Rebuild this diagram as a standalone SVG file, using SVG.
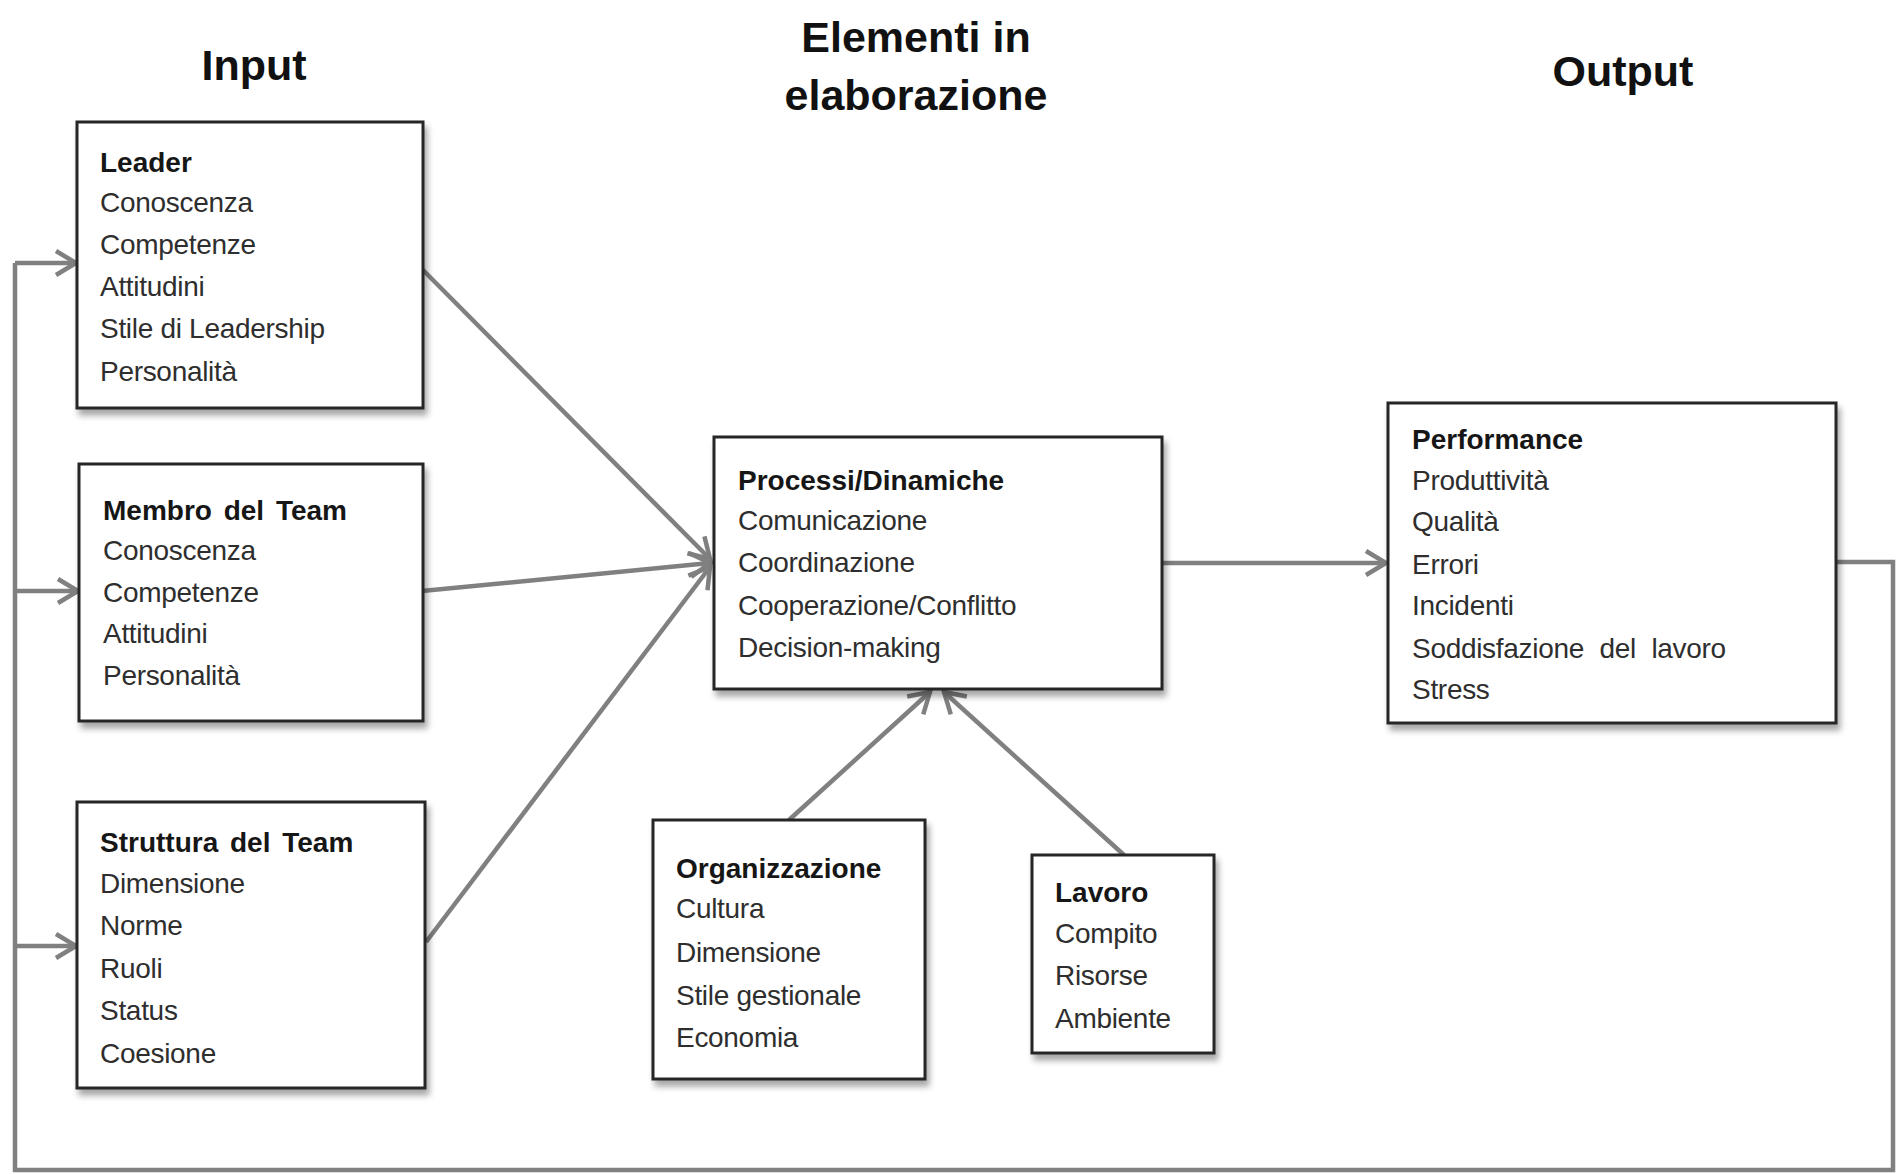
<svg xmlns="http://www.w3.org/2000/svg" width="1898" height="1174" viewBox="0 0 1898 1174">
<defs>
<filter id="sh" x="-10%" y="-10%" width="130%" height="130%">
<feDropShadow dx="3" dy="6" stdDeviation="3" flood-color="#000" flood-opacity="0.35"/>
</filter>
<marker id="ah" markerUnits="userSpaceOnUse" markerWidth="30" markerHeight="30" viewBox="0 0 30 30" refX="25" refY="15" orient="auto">
<path d="M5,3 L25,15 L5,27" fill="none" stroke="#808080" stroke-width="4.5"/>
</marker>
<style>
.box{fill:#fff;stroke:#262626;stroke-width:3;filter:url(#sh)}
.t{font-family:"Liberation Sans",Arial,sans-serif;font-size:28px;fill:#2e2e2e;letter-spacing:-0.3px}
.b{font-weight:bold;fill:#161616;word-spacing:4px;letter-spacing:0}
.h{font-family:"Liberation Sans",Arial,sans-serif;font-size:43px;font-weight:bold;fill:#111;text-anchor:middle}
.c{fill:none;stroke:#808080;stroke-width:4.5}
</style>
</defs>
<rect width="1898" height="1174" fill="#fff"/>
<g id="titles">
<text class="h" x="254" y="80">Input</text>
<text class="h" x="916" y="52">Elementi in</text>
<text class="h" x="916" y="110">elaborazione</text>
<text class="h" x="1623" y="86">Output</text>
</g>
<g id="connectors">
<path class="c" d="M1836,562 H1893 V1170 H15 V263"/>
<line class="c" x1="15" y1="263" x2="76" y2="263" marker-end="url(#ah)"/>
<line class="c" x1="15" y1="591" x2="78" y2="591" marker-end="url(#ah)"/>
<line class="c" x1="15" y1="946" x2="76" y2="946" marker-end="url(#ah)"/>
<line class="c" x1="422" y1="269" x2="710" y2="559" marker-end="url(#ah)"/>
<line class="c" x1="422" y1="591" x2="710" y2="563" marker-end="url(#ah)"/>
<line class="c" x1="426" y1="942" x2="710" y2="567" marker-end="url(#ah)"/>
<line class="c" x1="789" y1="820" x2="930" y2="692" marker-end="url(#ah)"/>
<line class="c" x1="1124" y1="855" x2="944" y2="692" marker-end="url(#ah)"/>
<line class="c" x1="1162" y1="563" x2="1386" y2="563" marker-end="url(#ah)"/>
</g>
<g id="leader">
<rect class="box" x="77" y="122" width="346" height="286"/>
<text class="t b" x="100" y="172">Leader</text>
<text class="t" x="100" y="212">Conoscenza</text>
<text class="t" x="100" y="254">Competenze</text>
<text class="t" x="100" y="296">Attitudini</text>
<text class="t" x="100" y="338">Stile di Leadership</text>
<text class="t" x="100" y="381">Personalità</text>
</g>
<g id="membro">
<rect class="box" x="79" y="464" width="344" height="257"/>
<text class="t b" x="103" y="520">Membro del Team</text>
<text class="t" x="103" y="560">Conoscenza</text>
<text class="t" x="103" y="602">Competenze</text>
<text class="t" x="103" y="643">Attitudini</text>
<text class="t" x="103" y="685">Personalità</text>
</g>
<g id="struttura">
<rect class="box" x="77" y="802" width="348" height="286"/>
<text class="t b" x="100" y="852">Struttura del Team</text>
<text class="t" x="100" y="893">Dimensione</text>
<text class="t" x="100" y="935">Norme</text>
<text class="t" x="100" y="978">Ruoli</text>
<text class="t" x="100" y="1020">Status</text>
<text class="t" x="100" y="1063">Coesione</text>
</g>
<g id="processi">
<rect class="box" x="714" y="437" width="448" height="252"/>
<text class="t b" x="738" y="490">Processi/Dinamiche</text>
<text class="t" x="738" y="530">Comunicazione</text>
<text class="t" x="738" y="572">Coordinazione</text>
<text class="t" x="738" y="615">Cooperazione/Conflitto</text>
<text class="t" x="738" y="657">Decision-making</text>
</g>
<g id="organizzazione">
<rect class="box" x="653" y="820" width="272" height="259"/>
<text class="t b" x="676" y="878">Organizzazione</text>
<text class="t" x="676" y="918">Cultura</text>
<text class="t" x="676" y="962">Dimensione</text>
<text class="t" x="676" y="1005">Stile gestionale</text>
<text class="t" x="676" y="1047">Economia</text>
</g>
<g id="lavoro">
<rect class="box" x="1032" y="855" width="182" height="198"/>
<text class="t b" x="1055" y="902">Lavoro</text>
<text class="t" x="1055" y="943">Compito</text>
<text class="t" x="1055" y="985">Risorse</text>
<text class="t" x="1055" y="1028">Ambiente</text>
</g>
<g id="performance">
<rect class="box" x="1388" y="403" width="448" height="320"/>
<text class="t b" x="1412" y="449">Performance</text>
<text class="t" x="1412" y="490">Produttività</text>
<text class="t" x="1412" y="531">Qualità</text>
<text class="t" x="1412" y="574">Errori</text>
<text class="t" x="1412" y="615">Incidenti</text>
<text class="t" x="1412" y="658" word-spacing="8">Soddisfazione del lavoro</text>
<text class="t" x="1412" y="699">Stress</text>
</g>
</svg>
